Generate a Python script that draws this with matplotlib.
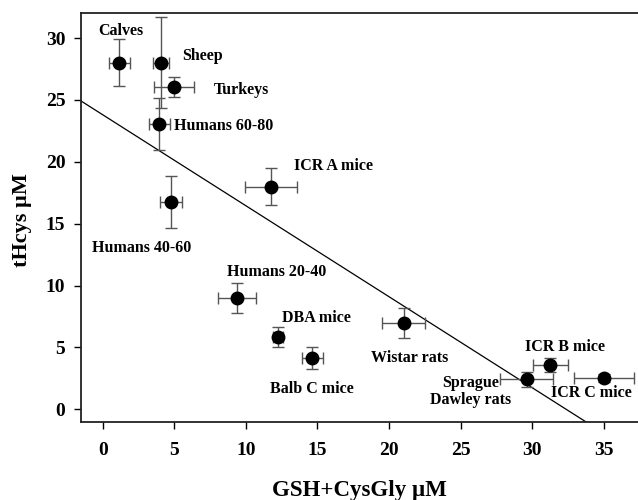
import numpy as np
import matplotlib.pyplot as plt

plt.rcParams['font.family'] = ['Liberation Serif', 'DejaVu Serif']

# data
labels = ["Calves", "Sheep", "Turkeys", "Humans 60-80", "Humans 40-60", "ICR A mice",
          "Humans 20-40", "DBA mice", "Balb C mice", "Wistar rats",
          "Sprague\nDawley rats", "ICR B mice", "ICR C mice"]
gsh = [1.16, 4.05, 5.0, 3.95, 4.77, 11.77, 9.40, 12.26, 14.64, 21.04, 29.61, 31.28, 35.0]
gsh_err = [0.72, 0.56, 1.4, 0.73, 0.78, 1.83, 1.34, 0.33, 0.73, 1.5, 1.88, 1.22, 2.1]
hcys = [28.02, 28.02, 26.03, 23.04, 16.73, 18.0, 9.0, 5.82, 4.12, 7.0, 2.43, 3.56, 2.53]
hcys_err = [1.9, 3.7, 0.8, 2.1, 2.1, 1.48, 1.18, 0.8, 0.9, 1.2, 0.6, 0.58, 0.3]

# label anchor positions (data coords)
label_x = [1.28, 6.98, 9.7, 8.42, 2.72, 16.1, 12.15, 14.94, 14.59, 21.46, 25.7, 32.28, 34.15]
label_y = [30.6, 28.56, 25.8, 22.9, 13.06, 19.7, 11.12, 7.4, 1.62, 4.12, 1.42, 5.06, 1.29]

# regression line
intercept = 23.8
slope = -0.735

fig = plt.figure(figsize=(6.38, 5.0), dpi=100)
ax = fig.add_axes([0.1265, 0.1554, 0.8735, 0.818])

xx = np.array([-1.6, 40])
ax.plot(xx, intercept + slope * xx, color='black', lw=0.9, zorder=1)

ax.errorbar(gsh, hcys, xerr=gsh_err, yerr=hcys_err, fmt='o', color='black',
            ms=9, ecolor='#555555', elinewidth=1, capsize=4, capthick=1, zorder=3)

for lab, lx, ly in zip(labels, label_x, label_y):
    ax.text(lx, ly, lab, ha='center', va='center', fontsize=11.5, fontweight='bold',
            linespacing=1.1)

ax.set_xlim(-1.54, 37.4)
ax.set_ylim(-1.05, 32.0)
ax.set_xticks(range(0, 36, 5))
ax.set_yticks(range(0, 31, 5))
ax.spines['right'].set_visible(False)
for s in ['left', 'bottom', 'top']:
    ax.spines[s].set_linewidth(1.3)
    ax.spines[s].set_color('#222222')
ax.tick_params(direction='out', length=5, width=1, labelsize=14)
ax.tick_params(axis='x', pad=9)
ax.tick_params(axis='y', pad=6)
for t in ax.get_xticklabels() + ax.get_yticklabels():
    t.set_fontweight('bold')

ax.set_xlabel("GSH+CysGly µM", fontsize=16.5, fontweight='bold', va='center')
ax.set_ylabel("tHcys µM", fontsize=16, fontweight='bold', va='center')
ax.xaxis.set_label_coords(0.5, -0.166)
ax.yaxis.set_label_coords(-0.106, 0.495)

fig.savefig("out.png", dpi=100)
